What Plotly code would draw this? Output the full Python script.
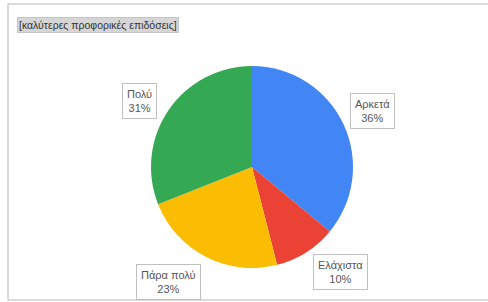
import math
import plotly.graph_objects as go

labels = ["Αρκετά", "Ελάχιστα", "Πάρα πολύ", "Πολύ"]
values = [36, 10, 23, 31]
colors = ["#4285F4", "#EA4335", "#FBBC04", "#34A853"]
title_text = "[καλύτερες προφορικές επιδόσεις]"

W, H = 488, 302
cx, cy, R = 252, 167, 101  # pixel layout of the pie
label_dist = 133
label_nudge = [(0, 1), (17, -7), (-23, -4), (-2, 9)]  # callout placement tweaks (px)

fig = go.Figure(go.Pie(
    labels=labels, values=values, sort=False, direction="clockwise", rotation=0,
    marker=dict(colors=colors, line=dict(width=0)),
    textinfo="none", hoverinfo="label+percent", showlegend=False,
    domain=dict(x=[(cx - R) / W, (cx + R) / W], y=[1 - (cy + R) / H, 1 - (cy - R) / H]),
))

total = sum(values)
cum = 0
annotations = []
for (lab, v), (nx, ny) in zip(zip(labels, values), label_nudge):
    mid = (cum + v / 2) / total * 2 * math.pi
    cum += v
    px = cx + label_dist * math.sin(mid)
    py = cy - label_dist * math.cos(mid)
    pct = round(v / total * 100)
    annotations.append(dict(
        x=px / W, y=1 - py / H, xref="paper", yref="paper",
        xshift=nx, yshift=-ny,
        text=f"{lab}<br>{pct}%", showarrow=False,
        font=dict(family="Arial, Liberation Sans", size=11, color="#555555"),
        bgcolor="white", bordercolor="#c0c0c0", borderwidth=1, borderpad=4,
        xanchor="center", yanchor="middle", align="center",
    ))

annotations.append(dict(
    x=17 / W, y=1 - 25 / H, xref="paper", yref="paper",
    text=title_text, showarrow=False,
    font=dict(family="Arial, Liberation Sans", size=10.5, color="#333333"),
    bgcolor="#d6d6d6", bordercolor="#c4c4c4", borderwidth=1, borderpad=1,
    xanchor="left", yanchor="middle",
))

fig.update_layout(
    width=W, height=H, margin=dict(l=0, r=0, t=0, b=0),
    paper_bgcolor="white", plot_bgcolor="white",
    annotations=annotations,
    shapes=[dict(type="rect", xref="paper", yref="paper",
                 x0=8 / W, x1=1.01, y0=1 - 300 / H, y1=1 - 4 / H,
                 line=dict(color="#d0d0d0", width=1.5), fillcolor="rgba(0,0,0,0)")],
)

fig.write_html("out.html", config={"displayModeBar": False},
               post_script="document.body.style.margin='0';document.body.style.overflow='hidden';")
